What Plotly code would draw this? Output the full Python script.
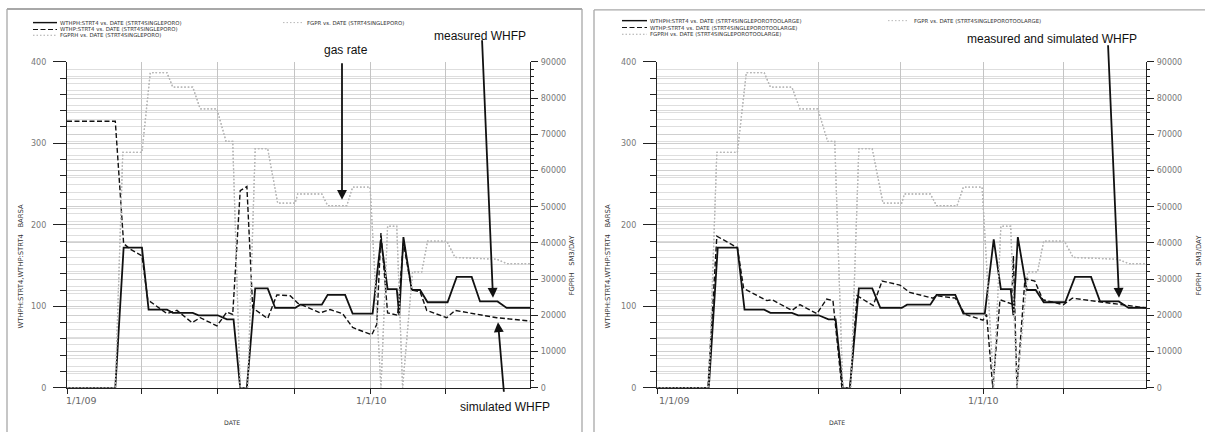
import plotly.graph_objects as go
import pandas as pd

W, H = 1205, 432
START = pd.Timestamp("2009-01-01")

case_left = "STRT4SINGLEPORO"
case_right = "STRT4SINGLEPOROTOOLARGE"

# ---------------- data (x = days after 1/1/09) ----------------
# measured well-head flowing pressure WTHPH (BARSA) - same history in both panels
measured_days = [0, 58, 68, 90, 98, 120, 127, 151, 158, 181, 192, 200, 208, 216, 226, 241, 250, 274, 280, 306,
                 313, 334, 343, 367, 377, 385, 396, 399, 404, 414, 424, 433, 457, 468, 486, 496, 517, 528, 556]
measured_whfp = [0, 0, 172, 172, 96, 96, 92, 92, 89, 89, 84, 84, 0, 0, 122, 122, 98, 98, 102, 102,
                 114, 114, 91, 91, 182, 121, 121, 89, 185, 120, 120, 105, 105, 136, 136, 106, 106, 98, 98]

# gas rate FGPRH (SM3/DAY); simulated FGPR lies on top of it
gas_days = [0, 58, 67, 90, 100, 120, 127, 151, 160, 180, 191, 199, 208, 217, 226, 241, 253, 274, 277, 306,
            313, 336, 343, 364, 377, 385, 396, 403, 415, 426, 433, 456, 466, 516, 528, 556]
gas_rate_hist = [0, 0, 65000, 65000, 87000, 87000, 83000, 83000, 77000, 77000, 68000, 68000, 0, 0, 66000, 66000,
                 51000, 51000, 53500, 53500, 50300, 50300, 55400, 55400, 0, 44600, 44600, 0, 32000, 32000,
                 40500, 40500, 36000, 35500, 34300, 34300]
gas_rate_sim = [0, 0, 65000, 65000, 87000, 87000, 83000, 83000, 77000, 77000, 68000, 68000, 0, 0, 66000, 66000,
                51000, 51000, 53500, 53500, 50300, 50300, 55400, 55400, 0, 44600, 44600, 0, 32000, 32000,
                40500, 40500, 36000, 35500, 34300, 34300]

# simulated WTHP, left case
sim_days_left = [0, 58, 68, 76, 90, 97, 120, 132, 150, 160, 180, 192, 199, 208, 216, 223, 241, 252, 268, 277,
                 304, 316, 331, 343, 366, 372, 377, 385, 397, 404, 414, 424, 432, 456, 466, 516, 546, 556]
sim_whfp_left = [327, 327, 177, 170, 162, 108, 91, 95, 80, 86, 76, 93, 90, 242, 247, 98, 85, 114, 113, 104,
                 92, 96, 91, 74, 65, 78, 190, 92, 89, 178, 120, 118, 95, 86, 95, 86, 83, 82]

# simulated WTHP, right case
sim_days_right = [0, 57, 67, 90, 97, 123, 129, 151, 160, 179, 190, 197, 207, 216, 224, 242, 252, 272, 283, 309,
                  313, 334, 345, 365, 369, 376, 384, 397, 399, 403, 412, 423, 432, 455, 465, 485, 516, 548]
sim_whfp_right = [0, 0, 186, 172, 122, 107, 108, 95, 102, 91, 109, 107, 0, 0, 113, 101, 131, 126, 117, 110,
                  113, 110, 90, 83, 90, 0, 108, 103, 162, 0, 134, 131, 108, 102, 110, 107, 103, 98]

quarter_ticks = ["2009-01-01", "2009-04-01", "2009-07-01", "2009-10-01", "2010-01-01", "2010-04-01"]
date_label_vals = ["2009-01-01", "2010-01-01"]
date_label_text = ["1/1/09", "1/1/10"]
left_title = "WTHPH:STRT4,WTHP:STRT4   BARSA"
right_title = "FGPRH   SM3/DAY"
series_names = ["WTHPH:STRT4", "WTHP:STRT4", "FGPRH", "FGPR"]


# ---------------- helpers ----------------
def dates(days):
    return [START + pd.Timedelta(days=float(d)) for d in days]


def px(x):
    return x / W


def py(y):
    return 1 - y / H


SOLID = dict(color="#111111", width=1.8)
DASH = dict(color="#111111", width=1.4, dash="5px,2.5px")
DOT_H = dict(color="#ababab", width=1.3, dash="1.5px,2px")
DOT_S = dict(color="#b8b8b8", width=1.2, dash="1.5px,2px")

fig = go.Figure()


def add_panel(xa, yl, yr, sim_days, sim_vals):
    fig.add_trace(go.Scatter(x=dates(gas_days), y=gas_rate_hist, xaxis=xa, yaxis=yr, mode="lines",
                             line=DOT_H, showlegend=False, hoverinfo="skip"))
    fig.add_trace(go.Scatter(x=dates(gas_days), y=gas_rate_sim, xaxis=xa, yaxis=yr, mode="lines",
                             line=DOT_S, showlegend=False, hoverinfo="skip"))
    fig.add_trace(go.Scatter(x=dates(sim_days), y=sim_vals, xaxis=xa, yaxis=yl, mode="lines",
                             line=DASH, showlegend=False, hoverinfo="skip"))
    fig.add_trace(go.Scatter(x=dates(measured_days), y=measured_whfp, xaxis=xa, yaxis=yl, mode="lines",
                             line=SOLID, showlegend=False, hoverinfo="skip"))


add_panel("x", "y", "y2", sim_days_left, sim_whfp_left)
add_panel("x2", "y3", "y4", sim_days_right, sim_whfp_right)

YD = [py(392), py(59)]
TICKFONT = dict(family="DejaVu Sans", size=8, color="#777777")
AX = "#222222"


def xcfg(dom, anchor, end_days):
    return dict(domain=dom, anchor=anchor, type="date",
                range=[START.isoformat(), (START + pd.Timedelta(days=end_days)).isoformat()],
                tickmode="array", tickvals=quarter_ticks, ticktext=[""] * len(quarter_ticks),
                ticks="outside", ticklen=5, tickcolor=AX, tickwidth=1,
                showline=True, linecolor=AX, linewidth=1.3,
                showgrid=True, gridcolor="#c4c4c4", gridwidth=1, zeroline=False, fixedrange=True)


def ylcfg(anchor):
    return dict(domain=YD, anchor=anchor, range=[0, 400], tickmode="linear", tick0=0, dtick=100,
                ticks="outside", ticklen=13, tickwidth=1.3, tickcolor=AX,
                showline=True, linecolor=AX, linewidth=1.3,
                showgrid=True, gridcolor="#cfcfcf", gridwidth=1, zeroline=False,
                minor=dict(tick0=0, dtick=20, ticks="outside", ticklen=6, tickcolor=AX, tickwidth=1,
                           showgrid=True, gridcolor="#dadada", gridwidth=1),
                tickfont=TICKFONT, ticklabelstandoff=5, fixedrange=True)


def yrcfg(over, anchor):
    return dict(overlaying=over, side="right", anchor=anchor, range=[0, 90000], tickmode="linear",
                tick0=0, dtick=10000, tickformat="d",
                ticks="outside", ticklen=7, tickwidth=1.3, tickcolor=AX,
                showline=True, linecolor=AX, linewidth=1.3,
                showgrid=True, gridcolor="#cfcfcf", gridwidth=1, zeroline=False,
                minor=dict(tick0=0, dtick=2000, ticks="outside", ticklen=3, tickcolor=AX, tickwidth=1,
                           showgrid=True, gridcolor="#dedede", gridwidth=1),
                tickfont=TICKFONT, ticklabelstandoff=1, fixedrange=True)


annotations = []
shapes = []


def text(t, x, y, size, color="#333333", family="DejaVu Sans", xanchor="center", angle=0):
    annotations.append(dict(text=t, x=px(x), y=py(y), xref="paper", yref="paper", showarrow=False,
                            xanchor=xanchor, yanchor="middle", textangle=angle,
                            font=dict(family=family, size=size, color=color)))


def arrow(tx, ty, hx, hy):
    annotations.append(dict(text="", x=px(hx), y=py(hy), xref="paper", yref="paper", showarrow=True,
                            ax=tx - hx, ay=ty - hy, arrowhead=2, arrowsize=1.1, arrowwidth=1.8,
                            arrowcolor="#111111", standoff=0, startstandoff=0))


def seg(x0, x1, y, line):
    shapes.append(dict(type="line", xref="paper", yref="paper", x0=px(x0), x1=px(x1), y0=py(y), y1=py(y),
                       line=line))


# panel frames
FRAME = dict(color="#a8a8a8", width=2)
shapes.append(dict(type="line", xref="paper", yref="paper", x0=px(7), x1=px(582), y0=py(5), y1=py(5), line=FRAME))
shapes.append(dict(type="line", xref="paper", yref="paper", x0=px(7), x1=px(7), y0=py(5), y1=py(440), line=dict(color="#a8a8a8", width=1.3)))
shapes.append(dict(type="line", xref="paper", yref="paper", x0=px(582), x1=px(582), y0=py(5), y1=py(440), line=dict(color="#a8a8a8", width=1.3)))
shapes.append(dict(type="line", xref="paper", yref="paper", x0=px(594), x1=px(1210), y0=py(6), y1=py(6), line=dict(color="#a8a8a8", width=1.3)))
shapes.append(dict(type="line", xref="paper", yref="paper", x0=px(594), x1=px(594), y0=py(6), y1=py(440), line=dict(color="#a8a8a8", width=1.3)))

LEGSIZE = 5.4
styles = [SOLID, DASH, DOT_H]
# legends left panel
for i, (nm, st) in enumerate(zip(series_names[:3], styles)):
    yy = [19, 26, 32][i]
    seg(33, 57, yy, dict(color=st["color"], width=st["width"] * 0.8, dash=st.get("dash", "solid")))
    text(f"{nm} vs. DATE ({case_left})", 58, yy, LEGSIZE, xanchor="left")
seg(283, 302, 19, dict(color=DOT_S["color"], width=1, dash=DOT_S["dash"]))
text(f"{series_names[3]} vs. DATE ({case_left})", 305, 19, LEGSIZE, xanchor="left")
# legends right panel
for i, (nm, st) in enumerate(zip(series_names[:3], styles)):
    yy = [17, 24, 31][i]
    seg(622, 647, yy, dict(color=st["color"], width=st["width"] * 0.8, dash=st.get("dash", "solid")))
    text(f"{nm} vs. DATE ({case_right})", 648, yy, LEGSIZE, xanchor="left")
seg(888, 908, 17, dict(color=DOT_S["color"], width=1, dash=DOT_S["dash"]))
text(f"{series_names[3]} vs. DATE ({case_right})", 912, 17, LEGSIZE, xanchor="left")

# axis titles
text(left_title, 21, 268, 6.8, angle=-90)
text(right_title, 572, 267, 6.8, angle=-90)
text(left_title, 608, 268, 6.8, angle=-90)
text(right_title, 1199, 267, 6.8, angle=-90)
text("DATE", 232, 427, 6.2)
text("DATE", 837, 427, 6.2)

# date tick labels
text(date_label_text[0], 81, 405, 9.5, color="#666666")
text(date_label_text[1], 371, 405, 9.5, color="#666666")
text(date_label_text[0], 674, 405, 9.5, color="#666666")
text(date_label_text[1], 983, 405, 9.5, color="#666666")

# callouts
CALL = "Liberation Sans"
text("gas rate", 346, 47, 12, color="#111111", family=CALL)
arrow(342, 62, 342, 200)
text("measured WHFP", 480, 33, 12, color="#111111", family=CALL)
arrow(482, 41, 493, 300)
text("simulated WHFP", 505, 412, 12, color="#111111", family=CALL)
arrow(504, 396, 498, 325)
text("measured and simulated WHFP", 1052, 36, 12, color="#111111", family=CALL)
arrow(1108, 46, 1119, 300)

fig.update_layout(
    width=W, height=H, margin=dict(l=0, r=0, t=0, b=0),
    paper_bgcolor="white", plot_bgcolor="white", showlegend=False,
    xaxis=xcfg([px(67), px(530)], "y", 556),
    yaxis=ylcfg("x"),
    yaxis2=yrcfg("y", "x"),
    xaxis2=xcfg([px(657), px(1146)], "y3", 547.5),
    yaxis3=ylcfg("x2"),
    yaxis4=yrcfg("y3", "x2"),
    annotations=annotations, shapes=shapes,
)

fig.write_html("out.html")
